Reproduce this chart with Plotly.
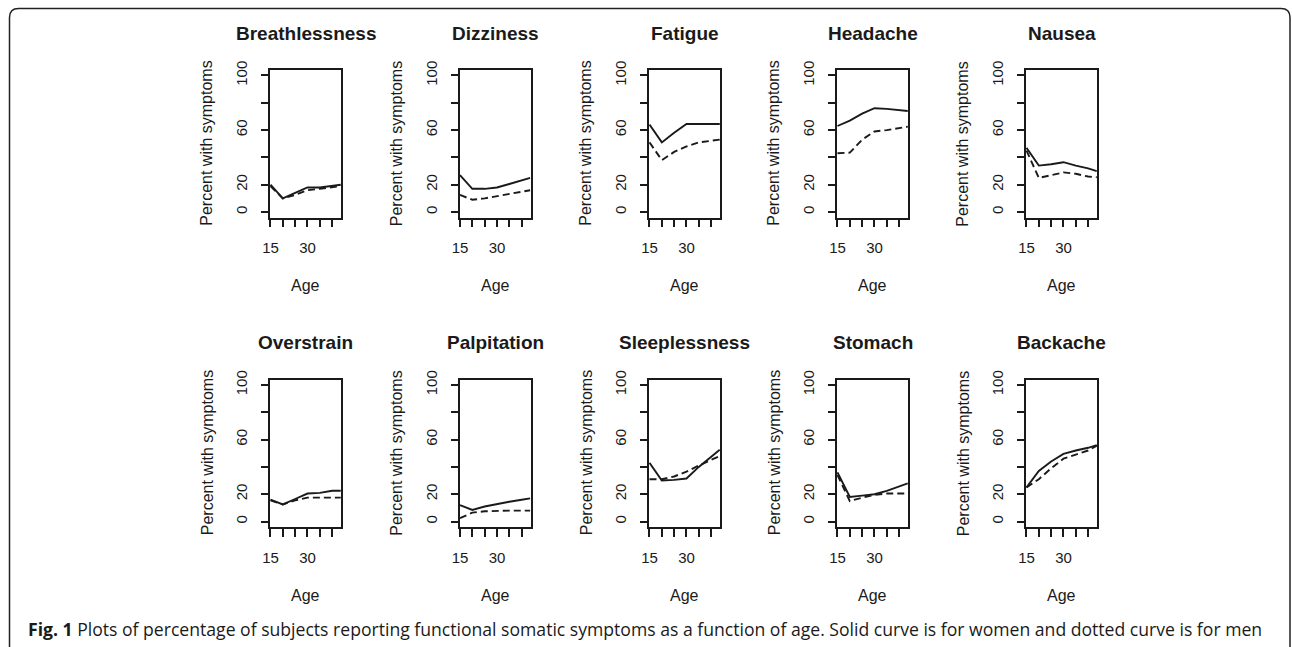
import plotly.graph_objects as go

# ---------------- data ----------------
ages = [15, 20, 25, 30, 35, 40, 43.5]

symptoms = ["Breathlessness", "Dizziness", "Fatigue", "Headache", "Nausea",
            "Overstrain", "Palpitation", "Sleeplessness", "Stomach", "Backache"]

breathlessness_women = [20, 10, 14, 18, 18, 19, 20]
breathlessness_men = [19, 10, 12.5, 16, 17, 18.5, 19]
dizziness_women = [27, 17, 17, 18, 20.5, 23, 25]
dizziness_men = [12.5, 9, 10, 11.5, 13, 14.5, 16]
fatigue_women = [64, 51, 58, 64.5, 64.5, 64.5, 64.5]
fatigue_men = [51, 38, 44, 48, 51, 52, 53]
headache_women = [63, 67, 72, 76, 75.5, 74.5, 74]
headache_men = [43, 43.5, 53, 59, 60, 61.5, 62.5]
nausea_women = [47, 34, 35, 36.5, 34, 32, 30]
nausea_men = [45, 25, 27, 29, 28, 26, 25.5]
overstrain_women = [16, 12.5, 16.5, 20.5, 21, 22.5, 22.5]
overstrain_men = [15.5, 12.5, 15.5, 17.5, 17.5, 17.5, 17.5]
palpitation_women = [12, 8.5, 11, 13, 14.5, 16, 17]
palpitation_men = [2.5, 6.5, 7.5, 8, 8, 8, 8]
sleeplessness_women = [43, 30, 30.5, 31.5, 40, 47, 52.5]
sleeplessness_men = [31, 31, 33, 36.5, 41, 45, 48]
stomach_women = [36, 18, 19, 20, 22.5, 25.5, 28]
stomach_men = [34, 15, 17.5, 19.5, 20.5, 20.5, 20.5]
backache_women = [25, 37, 44, 49.5, 52, 54, 56]
backache_men = [25, 31, 39, 46, 49, 52, 55.5]

women_series = [breathlessness_women, dizziness_women, fatigue_women, headache_women,
                nausea_women, overstrain_women, palpitation_women, sleeplessness_women,
                stomach_women, backache_women]
men_series = [breathlessness_men, dizziness_men, fatigue_men, headache_men, nausea_men,
              overstrain_men, palpitation_men, sleeplessness_men, stomach_men, backache_men]

y_tickvals = [0, 20, 40, 60, 80, 100]
y_ticktext = ["0", "20", "", "60", "", "100"]
x_tickvals = [15, 20, 25, 30, 35, 40]
x_ticktext = ["15", "", "", "30", "", ""]

caption_bold = "Fig. 1"
caption_text = (" Plots of percentage of subjects reporting functional somatic symptoms as a "
                "function of age. Solid curve is for women and dotted curve is for men")

# ---------------- layout helpers ----------------
W, H = 1292, 647
FONT = "Liberation Sans, Arial, sans-serif"
INK = "#1a1a1a"


def px(x):
    return x / W


def py(y):
    return 1 - y / H


col_left = [270, 459.5, 649, 837, 1026]
box_w = 71
row_top = [70, 379.5]
box_h = 147.5

fig = go.Figure()
annotations = []

for i, name in enumerate(symptoms):
    r, c = divmod(i, 5)
    left = col_left[c]
    top = row_top[r]
    k = i + 1
    xa = "x" if k == 1 else f"x{k}"
    ya = "y" if k == 1 else f"y{k}"

    fig.add_trace(go.Scatter(x=ages, y=women_series[i], mode="lines",
                             line=dict(color=INK, width=1.9),
                             xaxis=xa, yaxis=ya, showlegend=False))
    fig.add_trace(go.Scatter(x=ages, y=men_series[i], mode="lines",
                             line=dict(color=INK, width=1.9, dash="7px,4px"),
                             xaxis=xa, yaxis=ya, showlegend=False))

    xkey = "xaxis" if k == 1 else f"xaxis{k}"
    ykey = "yaxis" if k == 1 else f"yaxis{k}"
    fig.update_layout(**{
        xkey: dict(domain=[px(left), px(left + box_w)], anchor=ya,
                   range=[14.8, 43.6], tickmode="array", tickvals=x_tickvals,
                   ticktext=x_ticktext, ticks="outside", ticklen=8, tickwidth=1.6,
                   tickcolor=INK, showline=True, mirror=True, linecolor=INK,
                   linewidth=1.8, showgrid=False, zeroline=False, automargin=False,
                   tickfont=dict(family=FONT, size=15, color=INK),
                   ticklabelstandoff=8, fixedrange=True),
        ykey: dict(domain=[py(top + box_h), py(top)], anchor=xa,
                   range=[-4, 104], tickmode="array", tickvals=y_tickvals,
                   ticktext=y_ticktext, ticks="outside", ticklen=7, tickwidth=1.6,
                   tickcolor=INK, showline=True, mirror=True, linecolor=INK,
                   linewidth=1.8, showgrid=False, zeroline=False, tickangle=-90,
                   automargin=False,
                   tickfont=dict(family=FONT, size=15, color=INK),
                   ticklabelstandoff=8, fixedrange=True),
    })

    cx = left + box_w / 2
    annotations.append(dict(text=f"<b>{name}</b>", x=px(cx), y=py(top - 37),
                            xref="paper", yref="paper", showarrow=False,
                            xanchor="center", yanchor="middle",
                            font=dict(family=FONT, size=19, color=INK)))
    annotations.append(dict(text="Age", x=px(cx), y=py(top + box_h + 68),
                            xref="paper", yref="paper", showarrow=False,
                            xanchor="center", yanchor="middle",
                            font=dict(family=FONT, size=16, color=INK)))
    annotations.append(dict(text="Percent with symptoms", x=px(left - 63),
                            y=py(top + box_h / 2), xref="paper", yref="paper",
                            showarrow=False, textangle=-90, xanchor="center",
                            yanchor="middle",
                            font=dict(family=FONT, size=16, color=INK)))

annotations.append(dict(text=f"<b>{caption_bold}</b>{caption_text}", x=px(26), y=py(629),
                        xref="paper", yref="paper", showarrow=False,
                        xanchor="left", yanchor="middle",
                        font=dict(family="Open Sans, sans-serif", size=17.6, color=INK)))

# rounded frame
L, T, R, B, rad = 9.5, 8.5, 1290, 655, 9
path = (f"M {px(L)},{py(T + rad)} Q {px(L)},{py(T)} {px(L + rad)},{py(T)} "
        f"L {px(R - rad)},{py(T)} Q {px(R)},{py(T)} {px(R)},{py(T + rad)} "
        f"L {px(R)},{py(B - rad)} Q {px(R)},{py(B)} {px(R - rad)},{py(B)} "
        f"L {px(L + rad)},{py(B)} Q {px(L)},{py(B)} {px(L)},{py(B - rad)} Z")

fig.update_layout(
    template="none",
    width=W, height=H, autosize=False,
    margin=dict(l=0, r=0, t=0, b=0, pad=0, autoexpand=False),
    paper_bgcolor="white", plot_bgcolor="white",
    annotations=annotations,
    shapes=[dict(type="path", path=path, xref="paper", yref="paper",
                 line=dict(color="#222222", width=1.5), layer="above")],
)

fig.write_html("out.html", config={"displayModeBar": False},
               post_script="document.body.style.margin='0';"
                           "document.documentElement.style.overflow='hidden';")
